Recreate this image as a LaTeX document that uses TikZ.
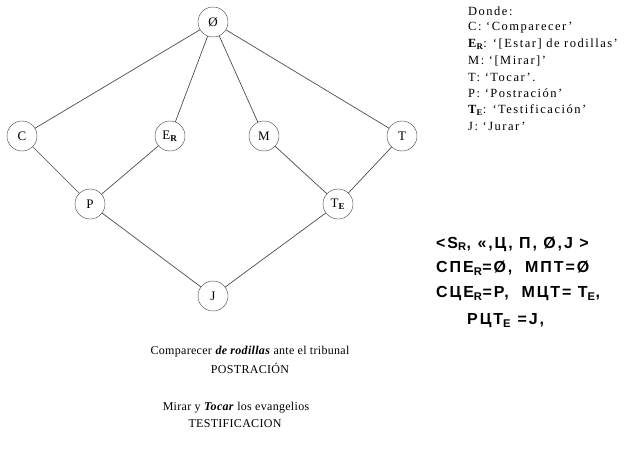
\documentclass[tikz,border=0pt]{standalone}
\usepackage{fontspec}
\setmainfont{Liberation Serif}
\newfontfamily\legendfont[LetterSpace=12]{Liberation Serif}
\newfontfamily\capfont[LetterSpace=2.5]{Liberation Serif}
\newfontfamily\formfont[LetterSpace=12]{Liberation Sans}
\begin{document}
\begin{tikzpicture}[x=1pt,y=-1pt,
  vert/.style={circle,draw=black!75,thin,minimum size=30pt,inner sep=0pt,font=\fontsize{13}{15}\selectfont},
  edge/.style={draw=black!70,line width=0.7pt},
  legend/.style={anchor=west,inner sep=0pt,font=\legendfont\fontsize{12.5}{15}\selectfont},
  form/.style={anchor=west,inner sep=0pt,font=\formfont\bfseries\fontsize{16}{18}\selectfont},
  caption/.style={anchor=center,inner sep=0pt,font=\capfont\fontsize{12}{14}\selectfont}]
\useasboundingbox (0,0) rectangle (643,455);
\node[vert] (O) at (213,22) {Ø};
\node[vert] (C) at (22,136) {C};
\node[vert] (E) at (170,136) {E\textsubscript{\textbf{R}}};
\node[vert] (M) at (264,136) {M};
\node[vert] (T) at (402,136) {T};
\node[vert] (P) at (90,204) {P};
\node[vert] (TE) at (338,204) {T\textsubscript{\textbf{E}}};
\node[vert] (J) at (213,296) {J};
\draw[edge] (O) -- (C);
\draw[edge] (O) -- (E);
\draw[edge] (O) -- (M);
\draw[edge] (O) -- (T);
\draw[edge] (C) -- (P);
\draw[edge] (E) -- (P);
\draw[edge] (M) -- (TE);
\draw[edge] (T) -- (TE);
\draw[edge] (P) -- (J);
\draw[edge] (TE) -- (J);
% legend
\node[legend] (l0) at (468,11) {Donde:};
\node[legend] (l1) at (468,27.5) {C: ‘Comparecer’};
\node[legend] (l2) at (468,44) {\textbf{E\textsubscript{R}}: ‘[Estar] de rodillas’};
\node[legend] (l3) at (468,60.5) {M: ‘[Mirar]’};
\node[legend] (l4) at (468,77) {T: ‘Tocar’.};
\node[legend] (l5) at (468,93.5) {P: ‘Postración’};
\node[legend] (l6) at (468,110) {\textbf{T\textsubscript{E}}: ‘Testificación’};
\node[legend] (l7) at (468,126.5) {J: ‘Jurar’};
% formulas
\node[form] (f1) at (436,244) {<S\textsubscript{R}, «,Ц, П, Ø,J >};
\node[form] (f2) at (436,268) {CПE\textsubscript{R}=Ø, \ MПT=Ø};
\node[form] (f3) at (436,294) {CЦE\textsubscript{R}=P, \ MЦT= T\textsubscript{E},};
\node[form] (f4) at (467,321) {PЦT\textsubscript{E} =J,};
% captions
\node[caption] (c1) at (250,352) {Comparecer \textbf{\textit{de rodillas}} ante el tribunal};
\node[caption] (c2) at (250,368) {POSTRACIÓN};
\node[caption] (c3) at (236,408) {Mirar y \textbf{\textit{Tocar}} los evangelios};
\node[caption] (c4) at (235,424) {TESTIFICACION};
\end{tikzpicture}
\end{document}
